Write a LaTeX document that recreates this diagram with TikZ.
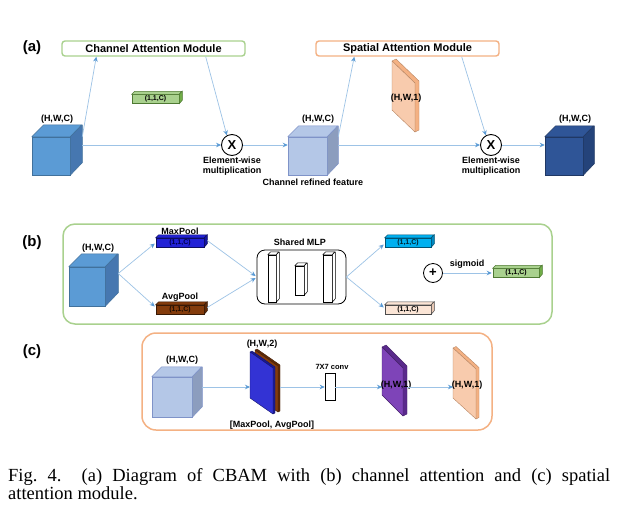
\documentclass[tikz,border=0pt]{standalone}
\usepackage{fontspec}
\setmainfont{Liberation Sans}
\newfontfamily\capfont{Liberation Serif}
\usetikzlibrary{arrows.meta,calc}
\definecolor{arr}{HTML}{9DC3E6}
\definecolor{arrh}{HTML}{5B9BD5}
\definecolor{gbord}{HTML}{A9D18E}
\definecolor{obord}{HTML}{F4B183}
\definecolor{bluef}{HTML}{5B9BD5}
\definecolor{blues}{HTML}{4677B0}
\definecolor{bluee}{HTML}{41719C}
\definecolor{lbluef}{HTML}{B4C7E7}
\definecolor{lblues}{HTML}{8C9DBE}
\definecolor{lbluee}{HTML}{7F93C8}
\definecolor{dbluef}{HTML}{2F5597}
\definecolor{dblues}{HTML}{24437A}
\definecolor{dbluee}{HTML}{203864}
\definecolor{peachf}{HTML}{F8CBAD}
\definecolor{peachs}{HTML}{F4B183}
\definecolor{greenf}{HTML}{A9D18E}
\definecolor{greens}{HTML}{70AD47}
\definecolor{maxf}{HTML}{2222D6}
\definecolor{maxs}{HTML}{1515A0}
\definecolor{avgf}{HTML}{843C0C}
\definecolor{avgs}{HTML}{5E2A08}
\definecolor{cyanf}{HTML}{00B0F0}
\definecolor{cyans}{HTML}{0088C0}
\definecolor{lpeachf}{HTML}{FBE5D6}
\definecolor{lpeachs}{HTML}{E8C8B4}
\definecolor{purpf}{HTML}{7E44B8}
\definecolor{purps}{HTML}{5A2A8C}
\definecolor{plblue}{HTML}{3333D4}
\definecolor{plblues}{HTML}{1A1A90}
\tikzset{
  conn/.style={draw=arr, line width=0.7pt, -{Stealth[length=5pt,width=4.5pt,color=arrh]}},
  lbl/.style={font=\bfseries\fontsize{9}{10}\selectfont, inner sep=0pt, align=center},
  tag/.style={font=\bfseries\fontsize{15}{15}\selectfont, inner sep=0pt},
  modbox/.style={rounded corners=3pt, line width=1.4pt, minimum width=183pt, minimum height=15pt, fill=white, inner sep=0pt, font=\bfseries\fontsize{11}{12}\selectfont},
  mult/.style={circle, draw=black, line width=0.9pt, fill=white, minimum size=21pt, inner sep=0pt, font=\bfseries\fontsize{13}{13}\selectfont},
  captext/.style={anchor=base west, inner sep=0pt, font=\capfont\fontsize{18.5}{20}\selectfont},
}
\newcommand\mycube[8]{%
  \node[fill=#6, draw=#8, line width=0.5pt, minimum width=#3pt, minimum height=#4pt, inner sep=0pt] (#1) at #2 {};
  \filldraw[fill=#6, draw=#8, line width=0.5pt, line join=round] (#1.north west) -- ++(#5,-#5) -- ++(#3,0) -- (#1.north east) -- cycle;
  \filldraw[fill=#7, draw=#8, line width=0.5pt, line join=round] (#1.north east) -- ++(#5,-#5) -- ++(0,#4) -- (#1.south east) -- cycle;
}
\newcommand\mybar[8]{%
  \node[fill=#4, draw=#6, line width=0.5pt, minimum width=#3pt, minimum height=9pt, inner sep=0pt, text=#8, font=\bfseries\fontsize{7}{7}\selectfont] (#1) at #2 {#7};
  \filldraw[fill=#4, draw=#6, line width=0.5pt] (#1.north west) -- ++(3,-3) -- ++(#3,0) -- (#1.north east) -- cycle;
  \filldraw[fill=#5, draw=#6, line width=0.5pt] (#1.north east) -- ++(3,-3) -- ++(0,9) -- (#1.south east) -- cycle;
}
\newcommand\myplate[9]{%
  \coordinate (#1-tl) at (#2,#3);
  \coordinate (#1-tr) at ($(#1-tl)+(#4,#5)$);
  \coordinate (#1-br) at ($(#1-tr)+(0,#6)$);
  \coordinate (#1-bl) at ($(#1-tl)+(0,#6)$);
  \filldraw[fill=#9, draw=#9!75!black, line width=0.4pt, line join=round] (#1-tl) -- ++(#7,{-#7/2}) -- ($(#1-tr)+(#7,{-#7/2})$) -- ($(#1-br)+(#7,{-#7/2})$) -- (#1-br) -- (#1-tr) -- cycle;
  \filldraw[fill=#8, draw=#9!75!black, line width=0.4pt, line join=round] (#1-tl) -- (#1-tr) -- (#1-br) -- (#1-bl) -- cycle;
}
\begin{document}
\begin{tikzpicture}[x=1pt,y=-1pt]
\useasboundingbox[fill=white] (0,0) rectangle (622,520);

% ---------------- (a) ----------------
\node[tag] (ta) at (32,48) {(a)};
\node[modbox, draw=gbord] (cam) at (153.5,48.5) {Channel Attention Module};
\node[modbox, draw=obord] (sam) at (407.5,48.5) {Spatial Attention Module};

\mycube{c1}{(51,156)}{38}{38}{12}{bluef}{blues}{bluee}
\node[lbl] (c1l) at (57,119) {(H,W,C)};
\mybar{ga}{(155.5,99)}{47}{greenf}{greens}{greens!70!black}{(1,1,C)}{black}

\node[mult] (x1) at (232,145) {X};
\node[lbl] (x1l) at (232,166) {Element-wise\\multiplication};

\mycube{c2}{(307.5,156)}{39}{38}{11}{lbluef}{lblues}{lbluee}
\node[lbl] (c2l) at (318,119) {(H,W,C)};
\node[lbl] (c2t) at (313,182) {Channel refined feature};

\myplate{pa}{392}{61}{23}{22}{49}{4}{peachf}{peachs}
\node[lbl] (pal) at (406,98) {(H,W,1)};

\node[mult] (x2) at (491,145) {X};
\node[lbl] (x2l) at (491,166) {Element-wise\\multiplication};

\mycube{c3}{(564,156)}{38}{38}{11}{dbluef}{dblues}{dbluee}
\node[lbl] (c3l) at (575,119) {(H,W,C)};

\draw[conn] ($(c1.north east)+(12,0)$) -- ($(cam.south west)+(35,0)$);
\draw[conn] ($(c1.east)+(12,-11)$) -- (x1.west);
\draw[conn] ($(cam.south east)+(-40,0)$) -- (x1.118);
\draw[conn] (x1.east) -- (x1.east -| c2.west);
\draw[conn] ($(c2.north east)+(11,0)$) -- ($(sam.south west)+(39,0)$);
\draw[conn] ($(c2.east)+(11,-11)$) -- (x2.west);
\draw[conn] ($(sam.south east)+(-38,0)$) -- (x2.118);
\draw[conn] (x2.east) -- (x2.east -| c3.west);

% ---------------- (b) ----------------
\node[tag] (tb) at (32,243) {(b)};
\draw[gbord, line width=1.5pt, rounded corners=12pt] (63,224) rectangle (552,324);
\mycube{cb}{(87,286.5)}{36}{39}{13}{bluef}{blues}{bluee}
\node[lbl] (cbl) at (98,248) {(H,W,C)};

\mybar{mx}{(180,242.5)}{48}{maxf}{maxs}{maxs!60!black}{(1,1,C)}{black!70!blue}
\node[lbl] (mxl) at (180,231) {MaxPool};
\mybar{av}{(180,309.5)}{48}{avgf}{avgs}{avgs!60!black}{(1,1,C)}{black!80!avgf}
\node[lbl] (avl) at (180,297) {AvgPool};

\node[draw=black, line width=0.8pt, rounded corners=8pt, minimum width=89pt, minimum height=54pt, inner sep=0pt] (mlp) at (301.5,277) {};
\node[lbl] (mlpl) at (300,242) {Shared MLP};
\mycube{m1}{(272,278.5)}{8}{47}{3}{white}{white}{black}
\mycube{m2}{(299.5,280.5)}{9}{29}{3}{white}{white}{black}
\mycube{m3}{(327.5,278.5)}{9}{47}{3}{white}{white}{black}

\mybar{cy}{(408,242.5)}{46}{cyanf}{cyans}{cyans!60!black}{(1,1,C)}{black!80!cyanf}
\mybar{pe}{(408,309.5)}{46}{lpeachf}{lpeachs}{black!70}{(1,1,C)}{black}
\node[circle, draw=black, line width=0.8pt, fill=white, minimum size=19pt, inner sep=0pt, font=\bfseries\fontsize{13}{13}\selectfont] (plus) at (433,273) {+};
\node[lbl] (sig) at (467,264) {sigmoid};
\mybar{gb}{(516,273)}{46}{greenf}{greens}{greens!70!black}{(1,1,C)}{black}

\draw[conn] ($(cb.east)+(13,-13)$) -- ($(mx.west)+(-1,1)$);
\draw[conn] ($(cb.east)+(13,-13)$) -- ($(av.west)+(-1,-3)$);
\draw[conn] ($(mx.east)+(3,-2)$) -- ($(mlp.west)+(-1,-1)$);
\draw[conn] ($(av.east)+(3,-2)$) -- ($(mlp.west)+(-1,1)$);
\draw[conn] (mlp.east) -- ($(cy.west)+(-1,2)$);
\draw[conn] (mlp.east) -- ($(pe.west)+(-1,-2)$);
\draw[conn] (plus.east) -- ($(gb.west)+(-1,0)$);

% ---------------- (c) ----------------
\node[tag] (tc) at (32,352) {(c)};
\draw[obord, line width=1.5pt, rounded corners=14pt] (142,333) rectangle (492,430);
\mycube{cc}{(172,397)}{40}{40}{10}{lbluef}{lblues}{lbluee}
\node[lbl] (ccl) at (182,360) {(H,W,C)};
\coordinate (crow) at ($(cc.east)+(10,-10)$);

\myplate{pbr}{255}{350}{23}{16}{46}{2}{avgf}{avgs}
\myplate{p1}{250}{352}{23}{16}{46}{2}{plblue}{plblues}
\node[lbl] (p1l) at (262,344) {(H,W,2)};
\node[lbl] (p1b) at (272,425) {[MaxPool, AvgPool]};

\node[draw=black, fill=white, line width=0.6pt, minimum width=10pt, minimum height=27pt, inner sep=0pt] (conv) at (330,387) {};
\node[font=\bfseries\fontsize{7.5}{8}\selectfont, inner sep=0pt] (convl) at (332,367) {7X7 conv};

\myplate{p2}{382}{347}{21}{21}{48}{4}{purpf}{purps}
\node[lbl] (p2l) at (396,385) {(H,W,1)};
\myplate{p3}{453}{348}{23}{21}{50}{3}{peachf}{peachs}
\node[lbl] (p3l) at (467,385) {(H,W,1)};

\draw[conn] (crow) -- (crow -| p1-tl);
\draw[conn] ($(crow -| pbr-tr)+(2,0)$) -- (conv.west);
\draw[conn] (conv.east) -- (conv.east -| p2-tl);
\draw[conn] ($(conv.east -| p2-tr)+(4,0)$) -- (conv.east -| p3-tl);

% ---------------- caption ----------------
\node[captext] (cap1) at (8,481) {\frenchspacing\makebox[602pt][s]{Fig. 4.\ \ (a) Diagram of CBAM with (b) channel attention and (c) spatial}};
\node[captext] (cap2) at (8,499) {\frenchspacing attention module.};
\end{tikzpicture}
\end{document}
